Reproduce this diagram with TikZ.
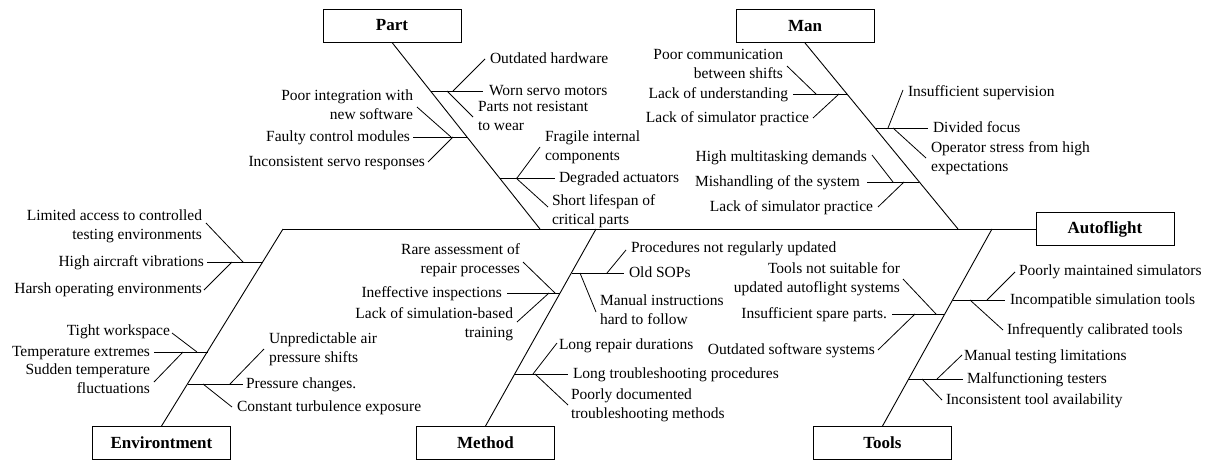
\documentclass[tikz,border=0pt]{standalone}
\usepackage{fontspec}
\setmainfont{Liberation Serif}
\begin{document}
\begin{tikzpicture}[x=1pt,y=-1pt,
  box/.style={draw, line width=0.9pt, minimum width=138pt, minimum height=33pt,
    inner sep=0pt, font=\bfseries\fontsize{17}{20}\selectfont},
  lbl/.style={inner sep=0pt, outer sep=0pt, font=\fontsize{15.5}{18.3}\selectfont},
  lw/.style={lbl, anchor=base west, align=left},
  le/.style={lbl, anchor=base east, align=right},
  bone/.style={line width=0.9pt},
  twig/.style={line width=0.8pt}]
\useasboundingbox (0,0) rectangle (1216,461);

% category boxes and effect box
\node[box] (part) at (392,25.5) {Part};
\node[box] (man)  at (805,26) {Man};
\node[box] (env)  at (161.5,443) {Environtment};
\node[box] (meth) at (485.5,443) {Method};
\node[box] (tools) at (882.5,443) {Tools};
\node[box] (auto) at (1105,229) {Autoflight};

% spine and main bones
\coordinate (tail) at (283,229);
\coordinate (jPart) at (540,229);
\coordinate (jMan) at (958,229);
\coordinate (jMeth) at (596,229);
\coordinate (jTools) at (992,229);
\draw[bone] (tail) -- (auto.west);
\draw[bone] (part.south) -- (jPart);
\draw[bone] (man.south) -- (jMan);
\draw[bone] (tail) -- (env.north);
\draw[bone] (jMeth) -- (meth.north);
\draw[bone] (jTools) -- (tools.north);

% (multi-line labels are placed by the baseline of their last line)

% ---- Part ----
\node[lw] (p1) at (490,63) {Outdated hardware};
\node[lw] (p2) at (489,95) {Worn servo motors};
\node[lw] (p3) at (478,130) {Parts not resistant\\to wear};
\draw[twig] (430.8,91) -- (483,91);
\draw[twig] (453,91) -- (485,59);
\draw[twig] (447,91) -- (473,117);

\node[le] (p4) at (413,119) {Poor integration with\\new software};
\node[le] (p5) at (410,141) {Faulty control modules};
\node[le] (p6) at (425,166) {Inconsistent servo responses};
\draw[twig] (413,137) -- (467.2,137);
\draw[twig] (417,107) -- (451,137);
\draw[twig] (428,162) -- (453,137);

\node[lw] (p7) at (545,160) {Fragile internal\\components};
\node[lw] (p8) at (559,182) {Degraded actuators};
\node[lw] (p9) at (552,224) {Short lifespan of\\critical parts};
\draw[twig] (499.6,178) -- (555,178);
\draw[twig] (517,178) -- (540,147);
\draw[twig] (516,178) -- (548,207);

% ---- Man ----
\node[le] (m1) at (783,78) {Poor communication\\between shifts};
\node[le] (m2) at (788,98) {Lack of understanding};
\node[le] (m3) at (809,122) {Lack of simulator practice};
\draw[twig] (793,94) -- (847,94);
\draw[twig] (787,66) -- (816,94);
\draw[twig] (813,118) -- (839,94);

\node[lw] (m4) at (908,96) {Insufficient supervision};
\node[lw] (m5) at (933,132) {Divided focus};
\node[lw] (m6) at (931,171) {Operator stress from high\\expectations};
\draw[twig] (874.9,128) -- (928,128);
\draw[twig] (888,128) -- (903,90);
\draw[twig] (893,128) -- (926,158);

\node[le] (m7) at (867,161) {High multitasking demands};
\node[le] (m8) at (860,186) {Mishandling of the system};
\node[le] (m9) at (873,211) {Lack of simulator practice};
\draw[twig] (867,182) -- (919.3,182);
\draw[twig] (872,155) -- (893,182);
\draw[twig] (878,207) -- (904,182);

% ---- Environtment ----
\node[le] (e1) at (202,239) {Limited access to controlled\\testing environments};
\node[le] (e2) at (204,266) {High aircraft vibrations};
\node[le] (e3) at (202,293) {Harsh operating environments};
\draw[twig] (207,262) -- (262.8,262);
\draw[twig] (206,223) -- (243,262);
\draw[twig] (204,290) -- (232,262);

\node[le] (e4) at (170,335) {Tight workspace};
\node[le] (e5) at (150,356) {Temperature extremes};
\node[le] (e6) at (150,393) {Sudden temperature\\fluctuations};
\draw[twig] (154,352) -- (207.8,352);
\draw[twig] (172,333) -- (197,352);
\draw[twig] (154,382) -- (183,352);

\node[lw] (e7) at (269,362) {Unpredictable air\\pressure shifts};
\node[lw] (e8) at (246,388) {Pressure changes.};
\node[lw] (e9) at (237,411) {Constant turbulence exposure};
\draw[twig] (188.3,384) -- (243,384);
\draw[twig] (230,384) -- (264,349);
\draw[twig] (203,384) -- (232,407);

% ---- Method ----
\node[le] (d1) at (520,273) {Rare assessment of\\repair processes};
\node[le] (d2) at (502,297) {Ineffective inspections};
\node[le] (d3) at (513,337) {Lack of simulation-based\\training};
\draw[twig] (507,293) -- (560.4,293);
\draw[twig] (523,262) -- (555,293);
\draw[twig] (517,322) -- (549,293);

\node[lw] (d4) at (631,252) {Procedures not regularly updated};
\node[lw] (d5) at (629,277) {Old SOPs};
\node[lw] (d6) at (600,324) {Manual instructions\\hard to follow};
\draw[twig] (571.6,273) -- (624,273);
\draw[twig] (607,273) -- (626,250);
\draw[twig] (580,273) -- (596,312);

\node[lw] (d7) at (559,349) {Long repair durations};
\node[lw] (d8) at (573,378) {Long troubleshooting procedures};
\node[lw] (d9) at (571,418) {Poorly documented\\troubleshooting methods};
\draw[twig] (515.4,374) -- (568,374);
\draw[twig] (533,374) -- (557,343);
\draw[twig] (535,374) -- (568,405);

% ---- Tools ----
\node[le] (t1) at (900,292) {Tools not suitable for\\updated autoflight systems};
\node[le] (t2) at (887,318) {Insufficient spare parts.};
\node[le] (t3) at (875,354) {Outdated software systems};
\draw[twig] (892,314) -- (945.2,314);
\draw[twig] (903,279) -- (936,314);
\draw[twig] (878,350) -- (915,314);

\node[lw] (t4) at (1019,275) {Poorly maintained simulators};
\node[lw] (t5) at (1010,304) {Incompatible simulation tools};
\node[lw] (t6) at (1007,334) {Infrequently calibrated tools};
\draw[twig] (952.9,300) -- (1005,300);
\draw[twig] (987,300) -- (1015,272);
\draw[twig] (970,300) -- (1003,330);

\node[lw] (t7) at (964,360) {Manual testing limitations};
\node[lw] (t8) at (967,383) {Malfunctioning testers};
\node[lw] (t9) at (946,404) {Inconsistent tool availability};
\draw[twig] (909.4,379) -- (963,379);
\draw[twig] (937,379) -- (962,355);
\draw[twig] (922,379) -- (942,400);
\end{tikzpicture}
\end{document}
